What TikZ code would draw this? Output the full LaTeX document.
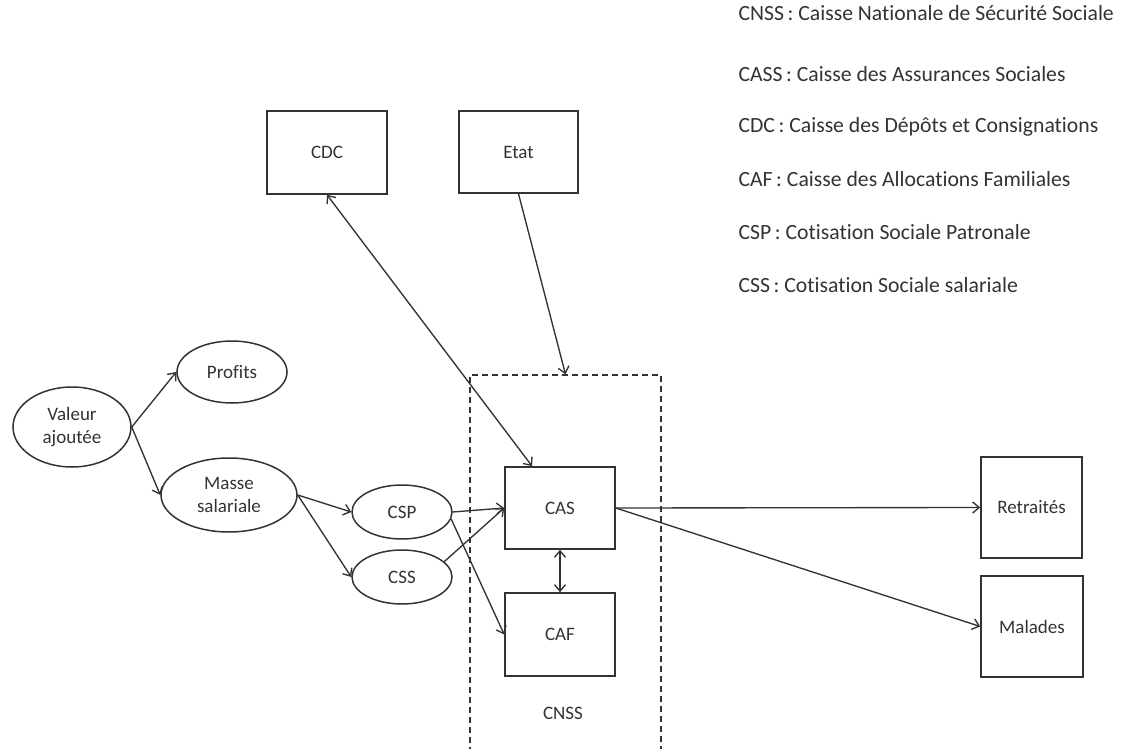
\documentclass[tikz,border=0pt]{standalone}
\usepackage{fontspec}
\setmainfont{Carlito}[Ligatures={NoCommon}]
\usetikzlibrary{shapes.geometric,arrows.meta,calc}
\definecolor{ln}{HTML}{333333}
\definecolor{tx}{HTML}{333333}
\begin{document}
\begin{tikzpicture}[x=1pt,y=-1pt,
  every node/.style={text=tx,font=\fontsize{19}{23}\selectfont},
  boxn/.style={draw=ln,line width=1.6pt,rectangle,inner sep=0pt},
  ell/.style={draw=ln,line width=1.5pt,ellipse,inner sep=0pt,align=center},
  conn/.style={draw=ln,line width=1.35pt,-{Straight Barb[length=6.5pt,width=11pt]}},
  dconn/.style={draw=ln,line width=1.35pt,{Straight Barb[length=6.5pt,width=11pt]}-{Straight Barb[length=6.5pt,width=11pt]}},
  leg/.style={anchor=base west,font=\fontsize{21.7}{25}\selectfont}]
\useasboundingbox (0,0) rectangle (1136,749);
\fill[white] (0,0) rectangle (1136,749);
\clip (0,0) rectangle (1136,749);
% legend
\node[leg] (l1) at (735,21) {CNSS\,: Caisse Nationale de Sécurité Sociale};
\node[leg] (l2) at (735,82) {CASS\,: Caisse des Assurances Sociales};
\node[leg] (l3) at (735,133) {CDC\,: Caisse des Dépôts et Consignations};
\node[leg] (l4) at (735,187) {CAF\,: Caisse des Allocations Familiales};
\node[leg] (l5) at (735,240) {CSP\,: Cotisation Sociale Patronale};
\node[leg] (l6) at (735,292) {CSS\,: Cotisation Sociale salariale};
% dashed CNSS box
\node[draw=ln,line width=1.3pt,dash pattern=on 6pt off 4pt,rectangle,inner sep=0pt,
  minimum width=191pt,minimum height=376pt] (cnssbox) at (565.5,563) {};
\node (cnsslbl) at (563,713) {CNSS};
% boxes
\node[boxn,minimum width=120pt,minimum height=83pt] (cdc) at (327,152.5) {CDC};
\node[boxn,minimum width=119pt,minimum height=82pt] (etat) at (518.5,152) {Etat};
\node[boxn,minimum width=110pt,minimum height=82pt] (cas) at (560,508) {CAS};
\node[boxn,minimum width=110pt,minimum height=83pt] (caf) at (560,634.5) {CAF};
\node[boxn,minimum width=101pt,minimum height=101pt] (ret) at (1031.5,507.5) {Retraités};
\node[boxn,minimum width=102pt,minimum height=101pt] (mal) at (1032,626.5) {Malades};
% ellipses
\node[ell,minimum width=118pt,minimum height=80pt] (val) at (72,427) {Valeur\\ajoutée};
\node[ell,minimum width=110pt,minimum height=62pt] (prof) at (232,372) {Profits};
\node[ell,minimum width=136pt,minimum height=74pt] (masse) at (229,495) {Masse\\salariale};
\node[ell,minimum width=100pt,minimum height=54pt] (csp) at (402,512) {CSP};
\node[ell,minimum width=100pt,minimum height=54pt] (css) at (402,577) {CSS};
% connectors
\draw[conn] (val.east) -- (prof.west);
\draw[conn] (val.east) -- (masse.west);
\draw[conn] (masse.east) -- (csp.west);
\draw[conn] (masse.east) -- (css.west);
\draw[conn] (csp.east) -- (cas.west);
\draw[conn] (css.20) -- (cas.west);
\draw[conn] (csp.-8) -- (caf.west);
\draw[dconn] (cas.south) -- (caf.north);
\draw[dconn] (cdc.south) -- ($(cas.north west)!0.25!(cas.north east)$);
\draw[conn] (etat.south) -- (cnssbox.north);
\draw[conn] (cas.east) -- (ret.west);
\draw[conn] (cas.east) -- (mal.west);
\end{tikzpicture}
\end{document}
